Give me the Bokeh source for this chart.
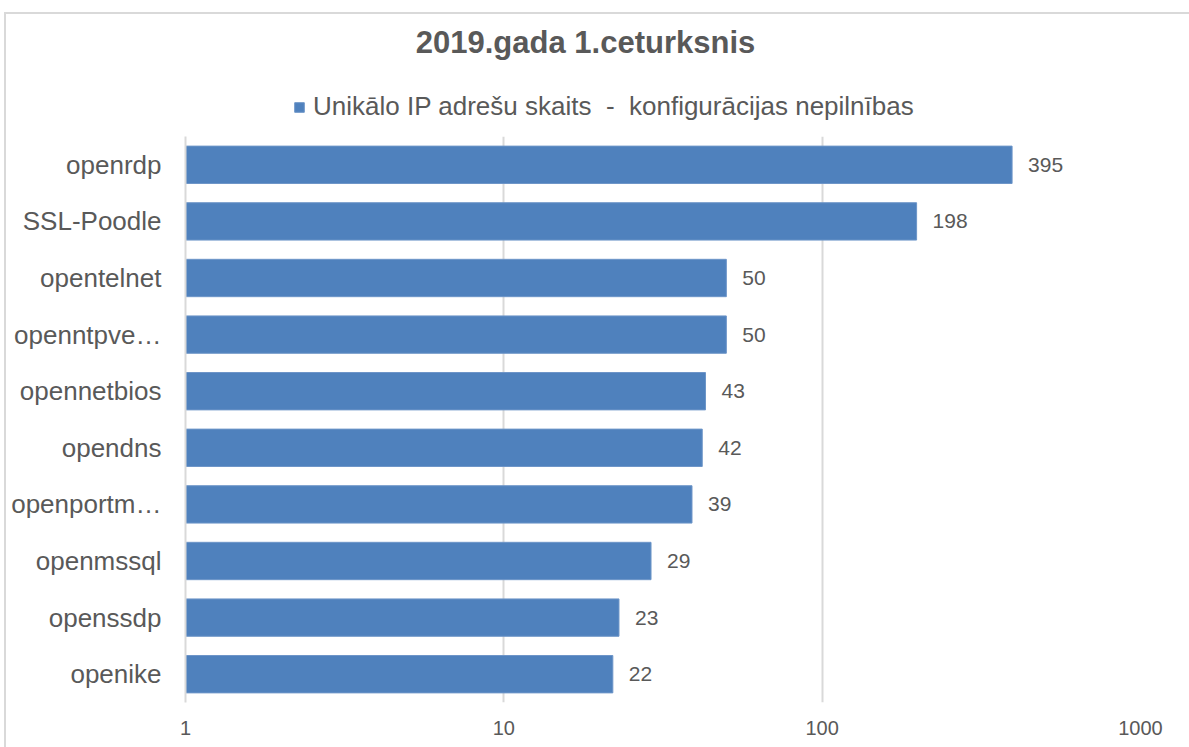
from bokeh.plotting import figure
from bokeh.layouts import column
from bokeh.models import (FactorRange, Range1d, FixedTicker, Legend, LegendItem,
                          ColumnDataSource)
from bokeh.embed import file_html
from bokeh.resources import INLINE
from bokeh.core.properties import value

categories = ["openrdp", "SSL-Poodle", "opentelnet", "openntpve\u2026", "opennetbios",
              "opendns", "openportm\u2026", "openmssql", "openssdp", "openike"]
counts = [395, 198, 50, 50, 43, 42, 39, 29, 23, 22]
tick_values = [1, 10, 100, 1000]
tick_labels = ["1", "10", "100", "1000"]
title_text = "2019.gada 1.ceturksnis"
series_name = "Unikālo IP adrešu skaits  -  konfigurācijas nepilnības"

FONT = "Liberation Sans"
GRAY = "#595959"
BLUE = "#4F81BD"
EDGE = "#6d95c8"

W = 1183
HEAD_H = 122
MAIN_H = 611
BL, BR = 179, 49
FRAME_W = W - BL - BR

# ---------------- header: title + legend ----------------
head = figure(width=W, height=HEAD_H, output_backend="svg", toolbar_location=None,
              x_range=Range1d(0, FRAME_W), y_range=Range1d(0, HEAD_H),
              x_axis_location=None, y_axis_location=None,
              min_border_left=BL, min_border_right=BR, min_border_top=0,
              min_border_bottom=0)
head.outline_line_color = None
head.xgrid.grid_line_color = None
head.ygrid.grid_line_color = None
head.text(x=[400], y=[94], text=[title_text], text_align="center",
          text_baseline="middle", text_color=GRAY, text_font=value(FONT),
          text_font_size="31px", text_font_style="bold")
# legend swatch renderer (kept outside the visible range)
swatch = head.hbar(y=[-50], left=[0], right=[1], height=1,
                   fill_color=BLUE, line_color=EDGE, line_width=1)
legend = Legend(items=[LegendItem(label=series_name, renderers=[swatch])],
                location=(108, 14), orientation="horizontal",
                glyph_width=12, glyph_height=12, label_standoff=8, padding=0, margin=0,
                spacing=0, border_line_color=None, background_fill_alpha=0,
                label_text_font=FONT, label_text_font_size="26px",
                label_text_color=GRAY, label_text_baseline="middle")
head.add_layout(legend)

# ---------------- main bar chart ----------------
src = ColumnDataSource(dict(cat=categories, val=counts, base=[1] * len(counts),
                            lab=[str(v) for v in counts]))

p = figure(width=W, height=MAIN_H, output_backend="svg", toolbar_location=None,
           x_axis_type="log", x_range=Range1d(1, 1000),
           y_range=FactorRange(factors=list(reversed(categories)), range_padding=0),
           min_border_left=BL, min_border_right=BR, min_border_top=0,
           min_border_bottom=45)
p.outline_line_color = None

p.hbar(y="cat", left="base", right="val", height=0.66, source=src,
       fill_color=BLUE, line_color=EDGE, line_width=1)
p.text(x="val", y="cat", text="lab", source=src, x_offset=16,
       text_baseline="middle", text_align="left", text_color=GRAY,
       text_font=value(FONT), text_font_size="21px")

xa = p.xaxis[0]
xa.ticker = FixedTicker(ticks=tick_values, minor_ticks=[])
xa.major_label_overrides = {v: l for v, l in zip(tick_values, tick_labels)}
xa.axis_line_color = None
xa.major_tick_line_color = None
xa.minor_tick_line_color = None
xa.major_tick_out = 0
xa.major_label_text_font = FONT
xa.major_label_text_font_size = "20px"
xa.major_label_text_color = GRAY
xa.major_label_standoff = 18

ya = p.yaxis[0]
ya.axis_line_color = "#d9d9d9"
ya.axis_line_width = 2
ya.major_tick_line_color = None
ya.minor_tick_line_color = None
ya.major_tick_out = 0
ya.major_label_text_font = FONT
ya.major_label_text_font_size = "26px"
ya.major_label_text_color = GRAY
ya.major_label_standoff = 24

p.ygrid.grid_line_color = None
p.xgrid.ticker = FixedTicker(ticks=tick_values, minor_ticks=[])
p.xgrid.grid_line_color = "#d9d9d9"
p.xgrid.grid_line_width = 2
p.xgrid.minor_grid_line_color = None

layout = column(head, p, spacing=0, margin=(12, 0, 0, 4),
                styles={"border-top": "2px solid #d9d9d9",
                        "border-left": "2px solid #d9d9d9"})

open("out.html", "w").write(file_html(layout, INLINE))
